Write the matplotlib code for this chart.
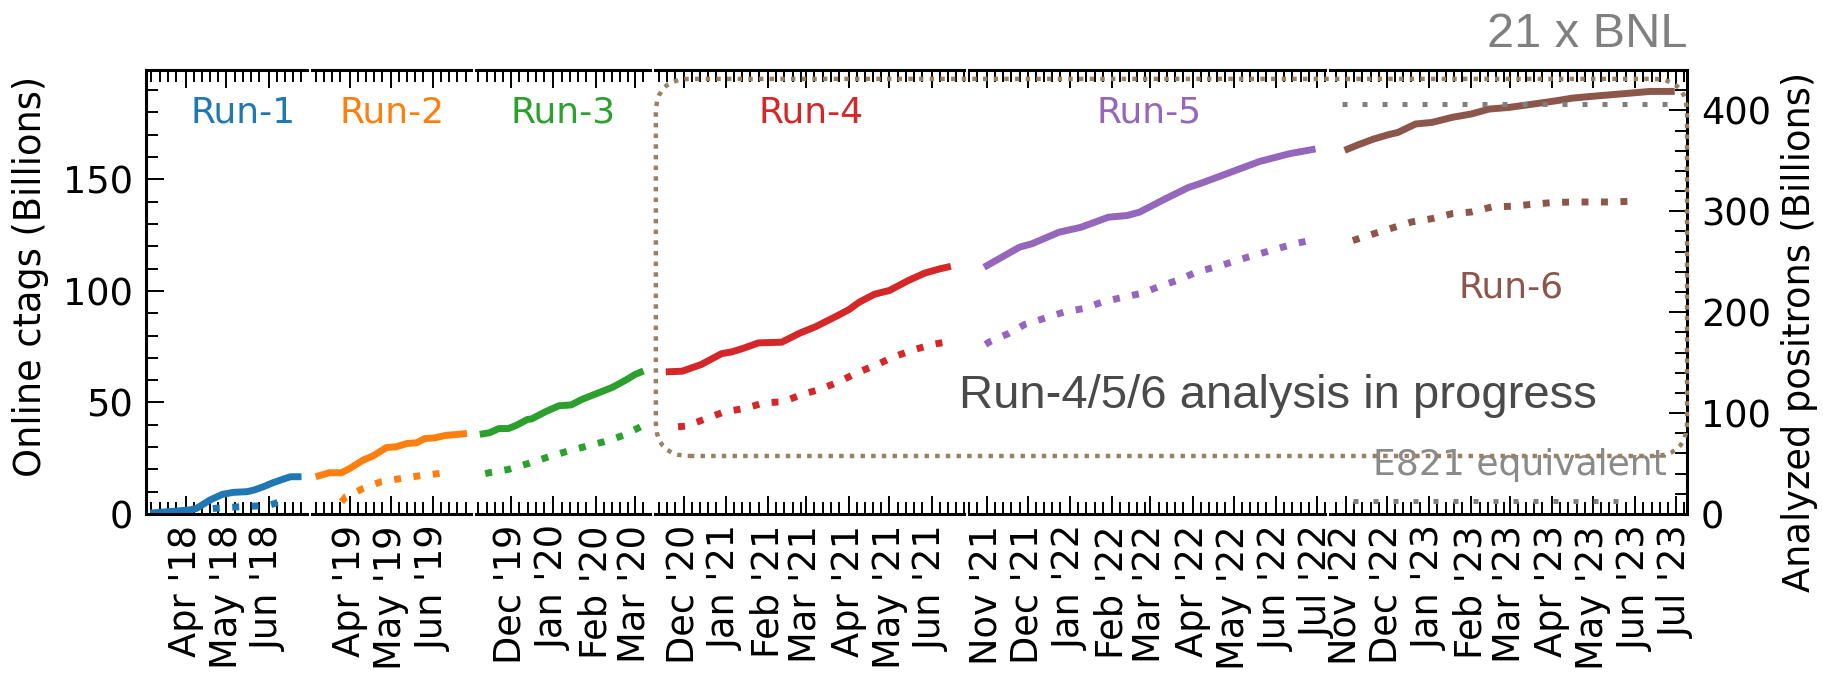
import numpy as np
import matplotlib
matplotlib.use("Agg")
import matplotlib.pyplot as plt
import matplotlib.dates as mdates
from matplotlib.ticker import MultipleLocator
from matplotlib.patches import FancyBboxPatch
from matplotlib.transforms import IdentityTransform

# ---------------- data ----------------
RUN_NAMES = ["Run-1", "Run-2", "Run-3", "Run-4", "Run-5", "Run-6"]
RUN_COLORS = ["#1f77b4", "#ff7f0e", "#2ca02c", "#d62728", "#9467bd", "#8c564b"]

PANEL_START = ["2018-03-03", "2019-03-04", "2019-11-05", "2020-11-10", "2021-10-19", "2022-10-20"]
PANEL_END = ["2018-06-29", "2019-06-29", "2020-03-12", "2021-06-25", "2022-07-07", "2023-07-09"]

# Online ctags (Billions), cumulative -- left axis
RUN1_CTAG_DATES = ["2018-03-06", "2018-04-04", "2018-04-09", "2018-04-19", "2018-04-28", "2018-05-06",
                   "2018-05-16", "2018-05-21", "2018-05-28", "2018-06-04", "2018-06-11", "2018-06-17",
                   "2018-06-25"]
RUN1_CTAG = [0.4, 1.8, 2.5, 6.3, 8.8, 9.7, 10.0, 10.7, 12.2, 14.0, 15.5, 16.7, 16.7]

RUN2_CTAG_DATES = ["2019-03-07", "2019-03-17", "2019-03-26", "2019-04-01", "2019-04-11", "2019-04-18",
                   "2019-04-28", "2019-05-05", "2019-05-13", "2019-05-20", "2019-05-26", "2019-06-02",
                   "2019-06-11", "2019-06-18", "2019-06-26"]
RUN2_CTAG = [16.7, 18.5, 18.5, 20.4, 24.2, 26.0, 29.8, 30.1, 31.6, 31.9, 33.8, 34.1, 35.3, 35.6, 36.1]

RUN3_CTAG_DATES = ["2019-11-08", "2019-11-15", "2019-11-22", "2019-11-29", "2019-12-05", "2019-12-13",
                   "2019-12-16", "2019-12-26", "2020-01-05", "2020-01-14", "2020-01-22", "2020-02-03",
                   "2020-02-13", "2020-02-23", "2020-03-01", "2020-03-07"]
RUN3_CTAG = [35.7, 36.4, 38.3, 38.3, 39.8, 42.4, 42.6, 45.8, 48.5, 48.9, 51.4, 54.3, 56.7, 60.0, 62.6, 64.1]

RUN4_CTAG_DATES = ["2020-11-18", "2020-11-30", "2020-12-14", "2020-12-29", "2021-01-05", "2021-01-13",
                   "2021-01-25", "2021-02-11", "2021-02-24", "2021-03-08", "2021-03-22", "2021-04-01",
                   "2021-04-09", "2021-04-20", "2021-05-01", "2021-05-15", "2021-05-27", "2021-06-07",
                   "2021-06-15"]
RUN4_CTAG = [63.7, 64.0, 67.0, 71.9, 72.6, 74.1, 76.7, 77.0, 81.0, 84.0, 88.3, 91.5, 95.0, 98.5,
             100.2, 104.7, 108.0, 109.9, 111.0]

RUN5_CTAG_DATES = ["2021-10-30", "2021-11-25", "2021-12-04", "2021-12-24", "2022-01-09", "2022-01-29",
                   "2022-02-12", "2022-02-21", "2022-03-12", "2022-03-29", "2022-04-06", "2022-04-28",
                   "2022-05-20", "2022-06-11", "2022-06-30"]
RUN5_CTAG = [110.6, 119.6, 121.1, 126.3, 128.5, 133.0, 133.8, 135.3, 141.3, 146.4, 148.0, 153.0,
             158.0, 161.5, 163.6]

RUN6_CTAG_DATES = ["2022-10-31", "2022-11-10", "2022-11-21", "2022-12-02", "2022-12-09", "2022-12-22",
                   "2023-01-03", "2023-01-18", "2023-02-01", "2023-02-14", "2023-02-28", "2023-03-18",
                   "2023-04-04", "2023-04-16", "2023-05-06", "2023-05-26", "2023-06-12", "2023-06-30"]
RUN6_CTAG = [163.0, 165.5, 168.0, 170.0, 171.0, 174.8, 175.5, 177.8, 179.3, 181.5, 182.2, 183.7,
             185.2, 186.4, 187.5, 188.5, 189.4, 189.4]

# Analyzed positrons (Billions), cumulative -- right axis
RUN1_POS_DATES = ["2018-04-21", "2018-05-09", "2018-05-24", "2018-06-02", "2018-06-09"]
RUN1_POS = [5.5, 7.0, 8.0, 9.0, 12.0]

RUN2_POS_DATES = ["2019-03-26", "2019-03-29", "2019-04-11", "2019-04-24", "2019-05-09", "2019-05-23",
                  "2019-06-08"]
RUN2_POS = [12.0, 17.0, 25.4, 32.0, 35.3, 38.0, 40.5]

RUN3_POS_DATES = ["2019-11-12", "2019-11-15", "2019-11-29", "2019-12-14", "2019-12-27", "2020-01-10",
                  "2020-01-24", "2020-02-07", "2020-02-22", "2020-03-05"]
RUN3_POS = [40.0, 40.9, 44.2, 50.2, 56.0, 61.7, 66.7, 71.6, 78.2, 86.5]

RUN4_POS_DATES = ["2020-11-27", "2020-12-03", "2020-12-18", "2020-12-31", "2021-01-15", "2021-01-29",
                  "2021-02-12", "2021-02-26", "2021-03-11", "2021-03-25", "2021-04-07", "2021-04-21",
                  "2021-05-04", "2021-05-18", "2021-06-01", "2021-06-10"]
RUN4_POS = [86.5, 87.1, 94.7, 101.3, 104.6, 110.2, 111.2, 118.5, 123.5, 131.0, 139.9, 147.5,
            155.7, 162.4, 168.0, 170.0]

RUN5_POS_DATES = ["2021-10-31", "2021-11-03", "2021-11-17", "2021-11-29", "2021-12-13", "2021-12-28",
                  "2022-01-11", "2022-01-25", "2022-02-08", "2022-02-22", "2022-03-08", "2022-03-21",
                  "2022-04-04", "2022-04-21", "2022-05-10", "2022-05-28", "2022-06-15", "2022-06-26"]
RUN5_POS = [168.0, 170.6, 178.9, 188.0, 193.8, 200.3, 203.6, 210.2, 214.5, 218.5, 225.7, 231.7,
            239.9, 246.0, 254.0, 261.0, 268.0, 271.0]

RUN6_POS_DATES = ["2022-11-06", "2022-11-22", "2022-12-19", "2023-01-03", "2023-01-18", "2023-02-01",
                  "2023-02-16", "2023-03-03", "2023-03-18", "2023-04-01", "2023-04-16", "2023-05-01",
                  "2023-05-14", "2023-05-28"]
RUN6_POS = [271.0, 278.0, 289.4, 292.7, 297.7, 299.3, 304.3, 305.0, 307.0, 308.6, 309.2, 309.2,
            309.2, 309.9]

# reference levels (right axis, Billions)
BNL21_LEVEL = 406.0
BNL21_DATES = ["2022-10-29", "2023-06-25"]
E821_LEVEL = 13.2
E821_DATES = ["2022-11-06", "2023-05-28"]

# analysis-in-progress box extent (left axis units)
BOX_TOP = 195.0
BOX_BOTTOM = 26.0

CTAG_DATES = [RUN1_CTAG_DATES, RUN2_CTAG_DATES, RUN3_CTAG_DATES, RUN4_CTAG_DATES, RUN5_CTAG_DATES, RUN6_CTAG_DATES]
CTAGS = [RUN1_CTAG, RUN2_CTAG, RUN3_CTAG, RUN4_CTAG, RUN5_CTAG, RUN6_CTAG]
POS_DATES = [RUN1_POS_DATES, RUN2_POS_DATES, RUN3_POS_DATES, RUN4_POS_DATES, RUN5_POS_DATES, RUN6_POS_DATES]
POSS = [RUN1_POS, RUN2_POS, RUN3_POS, RUN4_POS, RUN5_POS, RUN6_POS]

# run label positions (axes fraction)
LABEL_POS = [(0.60, 0.905), (0.503, 0.905), (0.501, 0.905), (0.503, 0.905), (0.506, 0.905), (0.508, 0.511)]

# ---------------- figure ----------------
W, H, DPI = 1824, 674, 100
plt.rcParams["font.family"] = ["DejaVu Sans"]
fig = plt.figure(figsize=(W / DPI, H / DPI), dpi=DPI)
fig.patch.set_facecolor("white")

starts = np.array(PANEL_START, dtype="datetime64[D]")
ends = np.array(PANEL_END, dtype="datetime64[D]")
widths = (ends - starts).astype(int)

L, R, T, B = 146, 1687, 70, 514
gs = fig.add_gridspec(1, 6, width_ratios=widths, left=L / W, right=R / W,
                      bottom=1 - B / H, top=1 - T / H, wspace=0.0181)

TICK_FS = 26.5
LW = 5.0
axes, twins = [], []
for i in range(6):
    ax = fig.add_subplot(gs[0, i])
    tw = ax.twinx()
    axes.append(ax)
    twins.append(tw)
    c = RUN_COLORS[i]
    ax.plot(np.array(CTAG_DATES[i], dtype="datetime64[D]"), CTAGS[i], color=c, lw=LW,
            solid_capstyle="butt", solid_joinstyle="round")
    tw.plot(np.array(POS_DATES[i], dtype="datetime64[D]"), POSS[i], color=c, lw=LW,
            ls=(0, (1, 1.8)), dash_capstyle="butt")
    ax.set_xlim(starts[i], ends[i])
    ax.set_ylim(0, 199)
    tw.set_ylim(0, 440)

    ax.xaxis.set_major_locator(mdates.MonthLocator())
    ax.xaxis.set_minor_locator(mdates.DayLocator(bymonthday=[7, 13, 19, 25]))
    ax.xaxis.set_major_formatter(mdates.DateFormatter("%b '%y"))
    ax.yaxis.set_major_locator(MultipleLocator(50))
    ax.yaxis.set_minor_locator(MultipleLocator(10))
    tw.yaxis.set_major_locator(MultipleLocator(100))
    tw.yaxis.set_minor_locator(MultipleLocator(20))

    for sp in ["top", "bottom", "left", "right"]:
        ax.spines[sp].set_linewidth(2.2)
        tw.spines[sp].set_linewidth(2.2)
    ax.spines["left"].set_visible(i == 0)
    ax.spines["right"].set_visible(False)
    tw.spines["left"].set_visible(False)
    tw.spines["top"].set_visible(False)
    tw.spines["bottom"].set_visible(False)
    tw.spines["right"].set_visible(i == 5)

    ax.tick_params(axis="x", which="both", direction="in", top=True, bottom=True,
                   labelsize=TICK_FS, labelrotation=90, pad=8)
    ax.tick_params(axis="both", which="major", length=13, width=1.4)
    ax.tick_params(axis="both", which="minor", length=8.5, width=1.4)
    ax.tick_params(axis="y", which="both", direction="in", left=(i == 0), labelleft=(i == 0),
                   right=False, labelright=False, labelsize=TICK_FS, pad=9.5)
    tw.tick_params(axis="y", which="both", direction="in", right=(i == 5), labelright=(i == 5),
                   left=False, labelleft=False, labelsize=TICK_FS, pad=10)
    tw.tick_params(axis="y", which="major", length=13, width=1.4)
    tw.tick_params(axis="y", which="minor", length=8.5, width=1.4)

    lx, ly = LABEL_POS[i]
    ax.text(lx, ly, RUN_NAMES[i], transform=ax.transAxes, ha="center", va="center",
            color=c, fontsize=26)

# reference lines in the last panel
tw6 = twins[5]
tw6.plot(np.array(BNL21_DATES, dtype="datetime64[D]"), [BNL21_LEVEL, BNL21_LEVEL], color="#808080",
         lw=3.6, ls=(0, (1, 3)), dash_capstyle="butt")
tw6.plot(np.array(E821_DATES, dtype="datetime64[D]"), [E821_LEVEL, E821_LEVEL], color="#808080",
         lw=3.6, ls=(0, (1, 3)), dash_capstyle="butt")

# axis labels
fig.text(31 / W, 1 - 276.5 / H, "Online ctags (Billions)", rotation=90, ha="center", va="center",
         fontsize=26.5)
fig.text(1800 / W, 1 - 332 / H, "Analyzed positrons (Billions)", rotation=90, ha="center",
         va="center", fontsize=26.5)

# annotations
fig.text(R / W, 1 - 47 / H, "21 x BNL", ha="right", va="baseline", fontsize=35,
         family="Liberation Sans", color="#808080")
fig.text(1277.5 / W, 1 - 408 / H, "Run-4/5/6 analysis in progress", ha="center", va="baseline",
         fontsize=34, family="Liberation Sans", color="#4a4a4a")
fig.text(1667 / W, 1 - 475 / H, "E821 equivalent", ha="right", va="baseline", fontsize=26,
         color="#8a8a8a")

# rounded dotted box around Run-4/5/6
ax4, ax6 = axes[3], axes[5]
x0 = ax4.get_position().x0 * W + 1
x1 = ax6.get_position().x1 * W
y0 = ax4.transData.transform((0, BOX_BOTTOM))[1]
y1 = ax4.transData.transform((0, BOX_TOP))[1]
box = FancyBboxPatch((x0, y0), x1 - x0, y1 - y0, boxstyle="round,pad=0,rounding_size=34",
                     transform=IdentityTransform(), fill=False, ec="#9b8064", lw=3.2,
                     ls=(0, (1, 1.4)), zorder=5, clip_on=False)
fig.add_artist(box)

fig.savefig("out.png", dpi=DPI, facecolor="white")
